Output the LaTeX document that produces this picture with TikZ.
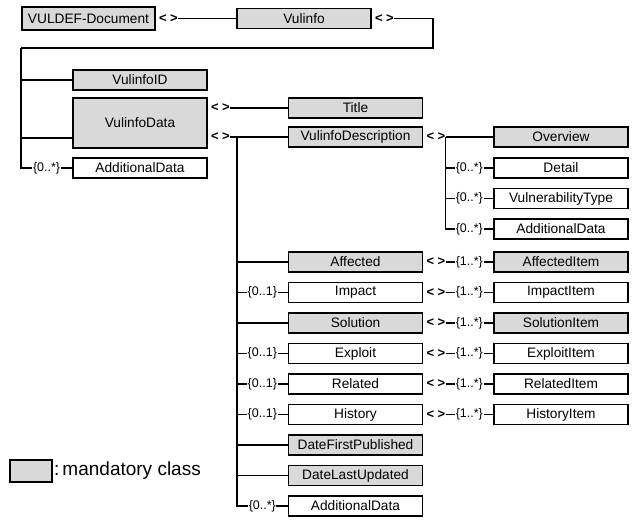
\documentclass[tikz,border=0pt]{standalone}
\usepackage{fontspec}
\setmainfont{Liberation Sans}
\usetikzlibrary{positioning}
\definecolor{mandgray}{RGB}{217,217,217}

\begin{document}
\begin{tikzpicture}[x=1pt, y=-1pt,
    cls/.style={draw, line width=1.7pt, minimum width=134pt, minimum height=20pt, inner sep=0pt, font=\fontsize{13.7}{15}\selectfont},
    mand/.style={cls, fill=mandgray},
    seq/.style={anchor=west, inner sep=0pt, font=\bfseries\fontsize{13}{15}\selectfont},
    card/.style={fill=white, inner sep=0.6pt, font=\fontsize{12.5}{14}\selectfont},
    ln/.style={line width=1.8pt}
]
\useasboundingbox (0,0) rectangle (642,519);

\node[mand, minimum width=133pt, minimum height=23pt] (doc) at (88.5,18.5) {VULDEF-Document};
\node[mand] (vulinfo) at (304,18.5) {Vulinfo};
\node[seq] (sq1) at ([xshift=3pt]doc.east) {< >};
\node[seq] (sq2) at ([xshift=3pt]vulinfo.east) {< >};

\node[mand] (vid) at (140,80) {VulinfoID};
\node[mand, minimum height=50pt] (vdata) at (140,123) {VulinfoData};
\node[cls] (vadd) at (140,168) {AdditionalData};

\node[seq] (sq3) at ([xshift=3pt,yshift=15pt]vdata.east) {< >};
\node[seq] (sq4) at ([xshift=3pt,yshift=-14pt]vdata.east) {< >};
\node[mand] (title) at (355.5,108) {Title};
\node[mand] (vdesc) at (355.5,137) {VulinfoDescription};
\node[seq] (sq5) at ([xshift=3pt]vdesc.east) {< >};

% description parts
\node[mand] (overview) at (561,137) {Overview};
\node[cls] (detail) at (561,168) {Detail};
\node[cls] (vtype) at (561,198.5) {VulnerabilityType};
\node[cls] (dadd) at (561,229) {AdditionalData};

% data parts
\node[mand] (affected) at (355.5,262) {Affected};
\node[cls] (impact) at (355.5,292.5) {Impact};
\node[mand] (solution) at (355.5,323) {Solution};
\node[cls] (exploit) at (355.5,353.5) {Exploit};
\node[cls] (related) at (355.5,384) {Related};
\node[cls] (history) at (355.5,414.5) {History};
\node[mand] (dfp) at (355.5,445) {DateFirstPublished};
\node[mand] (dlu) at (355.5,475.5) {DateLastUpdated};
\node[cls] (aadd) at (355.5,506) {AdditionalData};

% items
\node[mand] (affitem) at (561,262) {AffectedItem};
\node[cls] (impitem) at (561,292.5) {ImpactItem};
\node[mand] (solitem) at (561,323) {SolutionItem};
\node[cls] (expitem) at (561,353.5) {ExploitItem};
\node[cls] (relitem) at (561,384) {RelatedItem};
\node[cls] (hisitem) at (561,414.5) {HistoryItem};

\foreach \p in {affected,impact,solution,exploit,related,history}
    \node[seq] (sq\p) at ([xshift=3pt]\p.east) {< >};

% legend
\node[draw, line width=1.7pt, fill=mandgray, minimum width=42pt, minimum height=22pt, inner sep=0pt] (key) at (31,471) {};
\node[anchor=west, inner sep=0pt, font=\fontsize{19}{21}\selectfont] (keytext) at ([xshift=1pt]key.east) {:\,mandatory class};

\coordinate (turn) at (433,48);
\coordinate (b1) at (21,48);
\coordinate (b2) at (237,137);
\coordinate (b3) at (sq5.east);

\draw[ln] (sq1.east) -- (vulinfo.west);
\draw[ln] (sq2.east) -| (turn) -- (b1);
\draw[ln] (b1) |- (vid.west);
\draw[ln] (b1) |- ([yshift=11pt]vdata.south west);
\draw[ln] (b1) |- node[card, pos=0.75] {\{0..*\}} (vadd.west);

\draw[ln] (sq3.east) -- (title.west);
\draw[ln] (sq4.east) -- (vdesc.west);
\draw[ln] (sq5.east) -- (overview.west);
\draw[ln] (b3) |- node[card, pos=0.75] {\{0..*\}} (detail.west);
\draw[ln] (b3) |- node[card, pos=0.75] {\{0..*\}} (vtype.west);
\draw[ln] (b3) |- node[card, pos=0.75] {\{0..*\}} (dadd.west);

\draw[ln] (b2) |- (affected.west);
\draw[ln] (b2) |- node[card, pos=0.75] {\{0..1\}} (impact.west);
\draw[ln] (b2) |- (solution.west);
\draw[ln] (b2) |- node[card, pos=0.75] {\{0..1\}} (exploit.west);
\draw[ln] (b2) |- node[card, pos=0.75] {\{0..1\}} (related.west);
\draw[ln] (b2) |- node[card, pos=0.75] {\{0..1\}} (history.west);
\draw[ln] (b2) |- (dfp.west);
\draw[ln] (b2) |- (dlu.west);
\draw[ln] (b2) |- node[card, pos=0.75] {\{0..*\}} (aadd.west);

\draw[ln] (sqaffected.east) -- node[card] {\{1..*\}} (affitem.west);
\draw[ln] (sqimpact.east) -- node[card] {\{1..*\}} (impitem.west);
\draw[ln] (sqsolution.east) -- node[card] {\{1..*\}} (solitem.west);
\draw[ln] (sqexploit.east) -- node[card] {\{1..*\}} (expitem.west);
\draw[ln] (sqrelated.east) -- node[card] {\{1..*\}} (relitem.west);
\draw[ln] (sqhistory.east) -- node[card] {\{1..*\}} (hisitem.west);
\end{tikzpicture}
\end{document}
